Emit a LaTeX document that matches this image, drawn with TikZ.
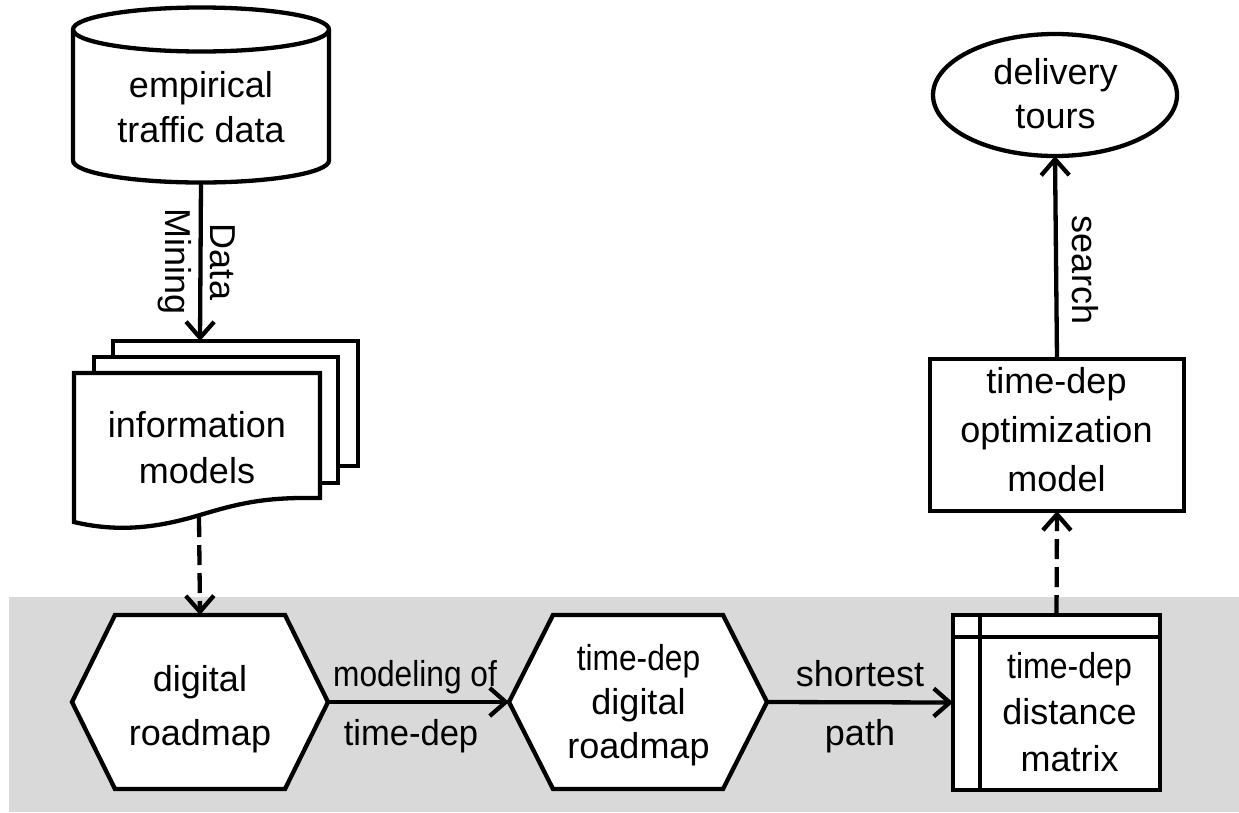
\documentclass[tikz,border=0pt]{standalone}
\usepackage{fontspec}
\setmainfont{Liberation Sans}
\usepackage{graphicx}
\usetikzlibrary{arrows.meta,shapes.geometric}
\newcommand\sst{\vrule width 0pt height 30pt depth 12pt}
\newcommand\cnd[2][0.88]{\scalebox{#1}[1]{#2}}
\definecolor{bandgray}{RGB}{217,217,217}
\begin{document}
\begin{tikzpicture}[x=1pt,y=-1pt,
  line width=4.3pt,
  shapebox/.style={draw=none,inner sep=0pt,outer sep=0pt,minimum width=#1},
  txt/.style={inner sep=0pt,outer sep=0pt,align=center,
    font=\fontsize{36}{#1}\selectfont,
    execute at begin node=\sst, execute at end node=\sst},
  txt/.default=44,
  arr/.style={-{Straight Barb[length=16pt,width=28pt,line width=4.3pt]},line width=4.3pt},
  dsh/.style={arr,dash pattern=on 20pt off 8pt}]
\useasboundingbox (0,0) rectangle (1239,812);
% gray band
\fill[bandgray] (9,597) rectangle (1239,812);

% cylinder
\node[shapebox=256pt,minimum height=175pt] (cyl) at (201,95) {};
\draw[fill=white] ([yshift=-22pt]cyl.north west) -- ([yshift=22pt]cyl.south west)
  arc[start angle=180,end angle=360,x radius=128pt,y radius=22pt]
  -- ([yshift=-22pt]cyl.north east)
  arc[start angle=0,end angle=180,x radius=128pt,y radius=22pt] -- cycle;
\draw ([yshift=-22pt]cyl.north west) arc[start angle=180,end angle=360,x radius=128pt,y radius=22pt];
\node[txt=45] (cyltxt) at (201,113) {empirical\\traffic data};

% document stack
\node[shapebox=246pt,minimum height=149pt] (doc) at (197,447.5) {};
\draw[fill=white] ([shift={(39pt,32pt)}]doc.north west) rectangle ++(245pt,-125pt);
\draw[fill=white] ([shift={(20pt,16pt)}]doc.north west) rectangle ++(244pt,-126pt);
\draw[fill=white] (doc.north west) -- (doc.north east) -- (320,498)
  .. controls (265,497) and (240,503) .. (200,515)
  .. controls (160,527) and (120,533) .. (74,522) -- cycle;
\node[txt=46] (doctxt) at (197,453) {information\\models};
\coordinate (doctop) at (200,341);
\coordinate (docbot) at (199,517);

% hexagons
\node[shapebox=256pt,minimum height=174pt] (hexA) at (200,702) {};
\draw[fill=white] (hexA.west) -- ([xshift=43pt]hexA.north west) -- ([xshift=-43pt]hexA.north east)
  -- (hexA.east) -- ([xshift=-43pt]hexA.south east) -- ([xshift=43pt]hexA.south west) -- cycle;
\node[txt=54] (hexAtxt) at (200,711) {digital\\roadmap};

\node[shapebox=258pt,minimum height=174pt] (hexB) at (638,702) {};
\draw[fill=white] (hexB.west) -- ([xshift=44pt]hexB.north west) -- ([xshift=-44pt]hexB.north east)
  -- (hexB.east) -- ([xshift=-44pt]hexB.south east) -- ([xshift=44pt]hexB.south west) -- cycle;
\node[txt=44] (hexBtxt) at (638.5,707) {\cnd{time-dep}\\digital\\roadmap};

% matrix
\node[shapebox=207pt,minimum height=175pt,draw,fill=white] (mat) at (1056.5,702.5) {};
\draw ([xshift=27pt]mat.north west) -- ([xshift=27pt]mat.south west);
\draw ([yshift=-22pt]mat.north west) -- ([yshift=-22pt]mat.north east);
\node[txt=46.5] (mattxt) at (1069.5,717.5) {\cnd[0.89]{time-dep}\\distance\\matrix};

% optimization model
\node[shapebox=254pt,minimum height=152pt,draw,fill=white] (opt) at (1057,435) {};
\node[txt=49] (opttxt) at (1056.5,435) {time-dep\\optimization\\model};

% delivery tours
\node[ellipse,draw,fill=white,inner sep=0pt,outer sep=0pt,minimum width=244pt,minimum height=122pt] (tours) at (1055,95) {};
\node[txt=44] (tourstxt) at (1055.5,99.7) {delivery\\tours};

% connectors
\draw[arr] (cyl.south) -- (doctop);
\node[txt=45,rotate=-90] (dm) at (194.5,262) {Data\\Mining};
\draw[dsh] (docbot) -- (hexA.north);
\draw[arr] (hexA.east) -- (hexB.west);
\node[txt] (l1) at (415,677) {\cnd{modeling of}};
\node[txt] (l2) at (411,736) {\cnd[0.96]{time-dep}};
\draw[arr] (hexB.east) -- (mat.west);
\node[txt] (l3) at (860,677) {shortest};
\node[txt] (l4) at (860,736) {path};
\draw[dsh] (mat.north) -- (opt.south);
\draw[arr] (opt.north) -- (tours.south);
\node[txt,rotate=-90] (srch) at (1081,270) {search};
\end{tikzpicture}
\end{document}
